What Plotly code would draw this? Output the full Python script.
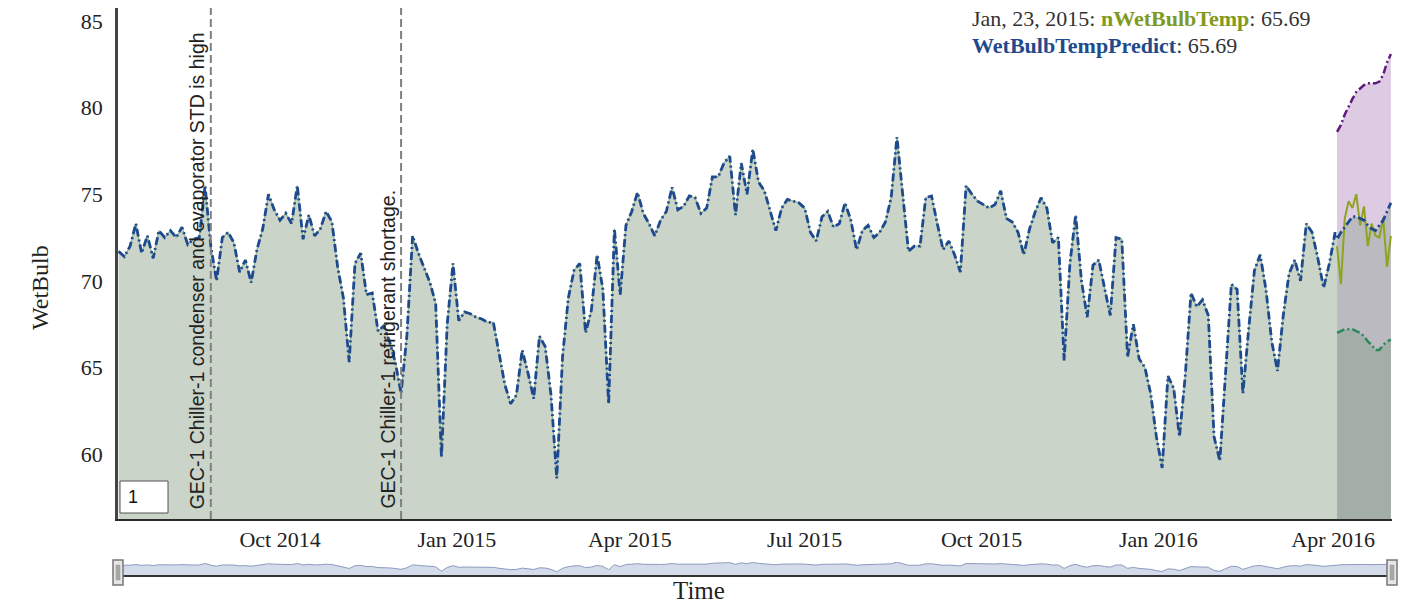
import pandas as pd
import plotly.graph_objects as go

# ---------------- data ----------------
hist_start = "2014-07-09"
hist_step = "3D"
hist_values = [
    71.7, 71.4, 72.0, 73.3, 71.6, 72.6, 71.3, 72.9, 72.5, 72.9,
    72.5, 73.1, 72.1, 72.4, 72.5, 75.5, 72.0, 70.0, 72.5, 72.8,
    72.2, 70.5, 71.2, 69.9, 71.8, 73.0, 75.0, 74.1, 73.5, 73.9,
    73.3, 75.5, 72.4, 73.8, 72.6, 73.0, 74.0, 73.4, 70.8, 69.0,
    65.3, 71.0, 71.6, 69.2, 69.3, 67.1, 67.4, 66.5, 65.3, 63.5,
    66.8, 72.6, 71.6, 70.7, 69.9, 68.7, 59.8, 67.5, 71.0, 67.7,
    68.2, 68.1, 67.9, 67.8, 67.6, 67.6, 65.7, 64.0, 62.9, 63.4,
    66.0, 64.7, 63.2, 66.8, 66.2, 63.4, 58.6, 65.6, 69.0, 70.6,
    71.0, 67.0, 68.3, 71.5, 69.5, 62.9, 73.0, 69.2, 73.2, 74.0,
    75.1, 73.9, 73.3, 72.6, 73.5, 74.0, 75.4, 74.1, 74.3, 74.9,
    74.8, 73.9, 74.2, 76.0, 76.0, 76.8, 77.2, 73.8, 76.8, 75.0,
    77.6, 75.7, 75.2, 74.0, 72.9, 74.2, 74.7, 74.6, 74.5, 74.2,
    72.8, 72.3, 73.7, 74.0, 73.1, 73.3, 74.5, 73.5, 71.8, 72.9,
    73.2, 72.5, 72.8, 73.4, 74.8, 78.3, 74.8, 71.7, 72.0, 72.0,
    74.8, 74.9, 73.3, 71.8, 72.3, 71.5, 70.5, 75.5, 75.0, 74.6,
    74.4, 74.2, 74.4, 75.2, 73.6, 73.4, 72.8, 71.5, 73.0, 74.0,
    74.8, 74.2, 72.2, 72.5, 65.4, 71.0, 73.8, 70.0, 67.9, 70.9,
    71.2, 69.5, 68.0, 72.5, 72.4, 65.6, 67.5, 65.5, 65.0, 63.5,
    61.0, 59.2, 64.5, 63.8, 61.0, 64.5, 69.3, 68.5, 68.9, 68.0,
    61.0, 59.6, 65.0, 69.8, 69.5, 63.5, 67.2, 70.6, 71.5, 69.5,
    66.5, 64.8, 68.0, 70.4, 71.2, 70.0, 73.3, 72.8, 71.3, 69.6,
    71.0, 72.8,
]

forecast_start = "2016-04-03"
forecast_step = "2D"
forecast_predict = [72.4, 72.8, 73.1, 73.4, 73.7, 73.7, 73.6, 73.5, 73.2, 73.0, 72.9, 73.2, 73.5, 74.0, 74.5]
forecast_actual = [72.0, 69.8, 73.6, 74.6, 74.2, 75.0, 73.2, 74.3, 72.0, 73.3, 72.6, 72.5, 73.6, 70.8, 72.6]
forecast_upper = [78.6, 79.0, 79.6, 80.1, 80.5, 80.9, 81.1, 81.3, 81.4, 81.4, 81.4, 81.5, 81.9, 82.6, 83.1]
forecast_lower = [67.0, 67.1, 67.2, 67.2, 67.2, 67.1, 67.0, 66.8, 66.5, 66.3, 66.0, 66.0, 66.3, 66.5, 66.6]

event_dates = ["2014-08-26", "2014-12-03"]
event_labels = [
    "GEC-1 Chiller-1 condenser and evaporator STD is high",
    "GEC-1 Chiller-1 refrigerant shortage.",
]

y_ticks = [60, 65, 70, 75, 80, 85]
x_range = ["2014-07-08 17:00", "2016-05-01 14:00"]
y_range = [56.25, 85.75]

readout_date = "Jan, 23, 2015"
readout_actual = 65.69
readout_predict = 65.69
roll_period = "1"

# ---------------- build ----------------
hist_dates = list(pd.date_range(hist_start, periods=len(hist_values), freq=hist_step))
fc_dates = list(pd.date_range(forecast_start, periods=len(forecast_predict), freq=forecast_step))

all_dates = hist_dates + fc_dates
all_predict = hist_values + forecast_predict

SERIF = "Liberation Serif, Times New Roman, serif"
SANS = "Liberation Sans, Arial, sans-serif"

fig = go.Figure()

# fills (drawn first)
fig.add_trace(go.Scatter(x=fc_dates, y=forecast_upper, mode="lines", line=dict(width=0),
                         fill="tozeroy", fillcolor="#dccbe2", hoverinfo="skip"))
fig.add_trace(go.Scatter(x=fc_dates, y=forecast_predict, mode="lines", line=dict(width=0),
                         fill="tozeroy", fillcolor="#bbbac0", hoverinfo="skip"))
fig.add_trace(go.Scatter(x=fc_dates, y=forecast_lower, mode="lines", line=dict(width=0),
                         fill="tozeroy", fillcolor="#a4aea9", hoverinfo="skip"))
fig.add_trace(go.Scatter(x=hist_dates + fc_dates[:1], y=hist_values + forecast_predict[:1],
                         mode="lines", line=dict(width=0),
                         fill="tozeroy", fillcolor="#cad4c9", hoverinfo="skip"))

# lines
fig.add_trace(go.Scatter(x=hist_dates, y=hist_values, mode="lines",
                         line=dict(color="#8fb08a", width=1.2), name="nWetBulbTemp"))
fig.add_trace(go.Scatter(x=fc_dates, y=forecast_actual, mode="lines",
                         line=dict(color="#8ea41e", width=2), name="nWetBulbTemp"))
fig.add_trace(go.Scatter(x=all_dates, y=all_predict, mode="lines",
                         line=dict(color="#1d4a8e", width=2.8, dash="8px,3px,2px,3px"),
                         name="WetBulbTempPredict"))
fig.add_trace(go.Scatter(x=fc_dates, y=forecast_upper, mode="lines",
                         line=dict(color="#5e1a7e", width=2.5, dash="8px,3px,2px,3px"), name="upper"))
fig.add_trace(go.Scatter(x=fc_dates, y=forecast_lower, mode="lines",
                         line=dict(color="#2a8a5a", width=2.5, dash="8px,3px,2px,3px"), name="lower"))

# range selector mini plot
fig.add_trace(go.Scatter(x=all_dates, y=all_predict, mode="lines", xaxis="x2", yaxis="y2",
                         line=dict(color="#8d9bbf", width=1), fill="tozeroy",
                         fillcolor="#d4dbea", hoverinfo="skip"))

# geometry: plot area y from 8 to 584 px (height 576)
H = 576.0
def py(px):
    return (584 - px) / H
def px_(x):
    return (x - 118) / 1274.0

fig.update_layout(
    width=1410, height=606,
    margin=dict(l=118, r=18, t=8, b=22),
    paper_bgcolor="white", plot_bgcolor="white",
    showlegend=False,
    xaxis=dict(domain=[0, 1], anchor="y", range=x_range, type="date",
               tick0="2014-10-01", dtick="M3", tickformat="%b %Y",
               showgrid=False, zeroline=False, ticks="", ticklabelstandoff=0,
               showline=True, linecolor="#2a2a2a", linewidth=2,
               tickfont=dict(family=SERIF, size=22, color="#222")),
    yaxis=dict(domain=[py(519), 1], anchor="x", range=y_range, tickvals=y_ticks,
               showgrid=False, zeroline=False, ticks="", ticklabelstandoff=8,
               showline=True, linecolor="#444", linewidth=2.5,
               tickfont=dict(family=SERIF, size=22, color="#222")),
    xaxis2=dict(domain=[0, 1], anchor="y2", range=x_range, type="date",
                showgrid=False, zeroline=False, showticklabels=False, showline=False),
    yaxis2=dict(domain=[py(576), py(562)], anchor="x2", range=[50, 78.5],
                showgrid=False, zeroline=False, showticklabels=False, showline=False),
)

shapes = []
annotations = []

# event lines + labels
for d, lab in zip(event_dates, event_labels):
    shapes.append(dict(type="line", xref="x", yref="y domain", x0=d, x1=d, y0=0, y1=1,
                       line=dict(color="#808080", width=2, dash="8px,4px")))
    annotations.append(dict(x=d, xref="x", y=(519 - 511) / 511.0, yref="y domain",
                            text=lab, textangle=-90, showarrow=False,
                            xanchor="right", yanchor="bottom", xshift=-1,
                            font=dict(family=SANS, size=19.5, color="#222")))

# roll period box
shapes.append(dict(type="rect", xref="paper", yref="paper",
                   x0=px_(120), x1=px_(168), y0=py(513), y1=py(481),
                   fillcolor="white", line=dict(color="#555", width=1)))
annotations.append(dict(x=px_(126), xref="paper", y=py(497), yref="paper", text=roll_period,
                        showarrow=False, xanchor="left", yanchor="middle",
                        font=dict(family=SANS, size=18, color="#111")))

# range selector decorations
shapes.append(dict(type="line", xref="paper", yref="paper", x0=0, x1=1, y0=py(576), y1=py(576),
                   line=dict(color="#333", width=2)))
for hx in (118, 1392):
    shapes.append(dict(type="rect", xref="paper", yref="paper",
                       x0=px_(hx - 5), x1=px_(hx + 5), y0=py(585), y1=py(560),
                       fillcolor="#e6e6e6", line=dict(color="#777", width=1.5), layer="above"))
    shapes.append(dict(type="rect", xref="paper", yref="paper",
                       x0=px_(hx - 2), x1=px_(hx + 2), y0=py(580), y1=py(565),
                       fillcolor="#a8a8a8", line=dict(color="#999", width=0.5), layer="above"))

# axis titles
annotations.append(dict(x=px_(40), xref="paper", y=py(288), yref="paper", text="WetBulb",
                        textangle=-90, showarrow=False, xanchor="center", yanchor="middle",
                        font=dict(family=SERIF, size=24, color="#222")))
annotations.append(dict(x=px_(699), xref="paper", y=py(590), yref="paper", text="Time",
                        showarrow=False, xanchor="center", yanchor="middle",
                        font=dict(family=SERIF, size=25, color="#222")))

# value readout
annotations.append(dict(x=px_(970), xref="paper", y=py(19), yref="paper",
                        text=f"{readout_date}: <b><span style='color:#7f9a1f'>nWetBulbTemp</span></b>: {readout_actual:.2f}",
                        showarrow=False, xanchor="left", yanchor="middle",
                        font=dict(family=SERIF, size=22, color="#333")))
annotations.append(dict(x=px_(970), xref="paper", y=py(46), yref="paper",
                        text=f"<b><span style='color:#1f4a8c'>WetBulbTempPredict</span></b>: {readout_predict:.2f}",
                        showarrow=False, xanchor="left", yanchor="middle",
                        font=dict(family=SERIF, size=22, color="#333")))

fig.update_layout(shapes=shapes, annotations=annotations)

fig.write_html("out.html", config={"displayModeBar": False},
               post_script="document.body.style.margin='0';document.body.style.padding='0';document.body.style.overflow='hidden';")
